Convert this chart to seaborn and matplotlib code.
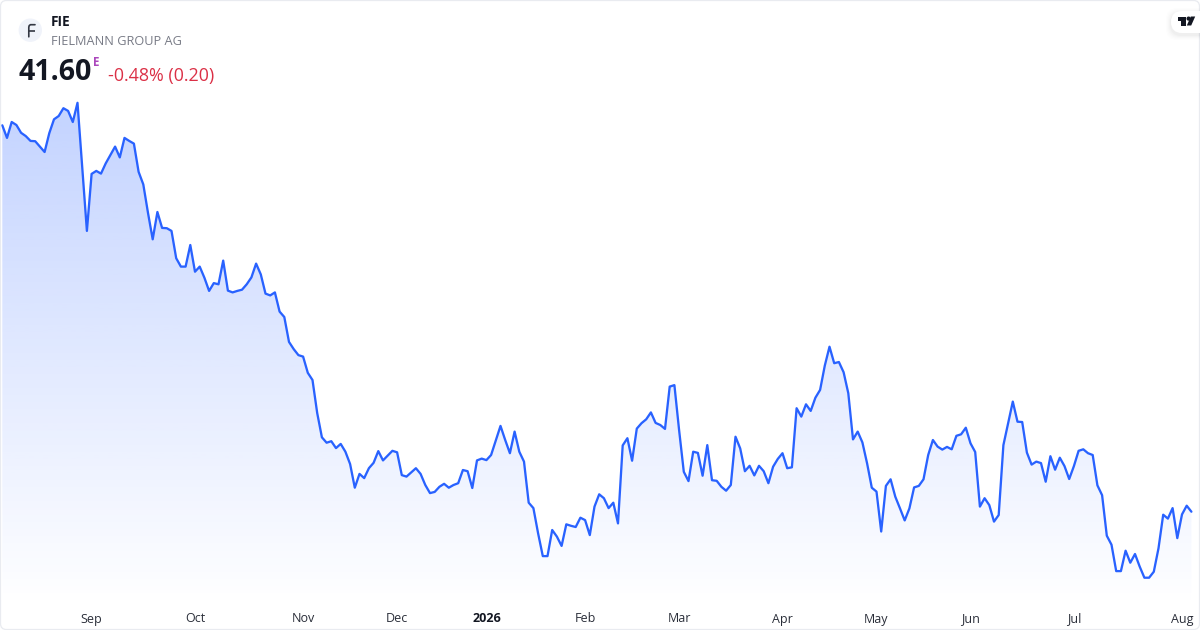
import numpy as np
import pandas as pd
import matplotlib
matplotlib.use("Agg")
import matplotlib.pyplot as plt
from matplotlib.patches import Circle, FancyBboxPatch, Polygon, Rectangle
import seaborn as sns

# Daily closes
prices = [
    54.48, 54.06, 54.59, 54.49, 54.23, 54.12, 53.96, 53.95, 53.77, 53.59,
    54.22, 54.68, 54.79, 55.05, 54.96, 54.59, 55.23, 53.09, 50.96, 52.86,
    52.96, 52.87, 53.21, 53.49, 53.77, 53.41, 54.06, 53.96, 53.87, 52.93,
    52.51, 51.56, 50.68, 51.59, 51.06, 51.05, 50.96, 50.05, 49.77, 49.77,
    50.49, 49.60, 49.77, 49.40, 48.96, 49.22, 49.18, 49.97, 48.97, 48.91,
    48.96, 49.00, 49.18, 49.41, 49.87, 49.51, 48.87, 48.81, 48.91, 48.27,
    48.09, 47.26, 47.02, 46.82, 46.77, 46.23, 45.99, 44.89, 44.08, 43.90,
    43.95, 43.72, 43.86, 43.60, 43.19, 42.40, 42.86, 42.72, 43.05, 43.23,
    43.62, 43.31, 43.47, 43.63, 43.58, 42.82, 42.77, 42.91, 43.05, 42.86,
    42.49, 42.22, 42.26, 42.43, 42.53, 42.40, 42.49, 42.55, 42.99, 42.95,
    42.39, 43.31, 43.37, 43.32, 43.49, 43.97, 44.46, 43.99, 43.55, 44.27,
    43.60, 43.27, 41.90, 41.72, 40.88, 40.12, 40.12, 40.99, 40.77, 40.46,
    41.18, 41.13, 41.09, 41.40, 41.32, 40.82, 41.77, 42.18, 42.05, 41.72,
    41.90, 41.21, 43.81, 44.05, 43.30, 44.37, 44.55, 44.68, 44.91, 44.56,
    44.49, 44.36, 45.77, 45.82, 44.32, 42.93, 42.62, 43.60, 43.56, 42.80,
    43.82, 42.65, 42.63, 42.43, 42.30, 42.49, 44.10, 43.71, 42.95, 43.13,
    42.81, 43.13, 42.95, 42.55, 43.10, 43.36, 43.55, 43.05, 43.08, 45.05,
    44.77, 45.18, 44.96, 45.40, 45.66, 46.47, 47.10, 46.55, 46.59, 46.25,
    45.55, 44.01, 44.27, 43.91, 43.21, 42.40, 42.27, 40.94, 42.46, 42.68,
    42.10, 41.71, 41.31, 41.71, 42.41, 42.46, 42.68, 43.49, 43.99, 43.77,
    43.67, 43.76, 43.68, 44.13, 44.18, 44.40, 43.88, 43.59, 41.77, 42.05,
    41.82, 41.27, 41.49, 43.82, 44.55, 45.27, 44.60, 44.59, 43.57, 43.17,
    43.27, 43.22, 42.60, 43.45, 43.00, 43.40, 43.12, 42.69, 43.12, 43.63,
    43.68, 43.55, 43.49, 42.48, 42.15, 40.80, 40.50, 39.62, 39.62, 40.30,
    39.90, 40.19, 39.77, 39.40, 39.40, 39.60, 40.38, 41.50, 41.37, 41.72,
    40.72, 41.51, 41.80, 41.60,
]

# Exchange holidays, so that month ticks land on the right session
holidays = ["2025-12-24", "2025-12-25", "2025-12-26", "2025-12-31", "2026-01-01",
            "2026-04-03", "2026-04-06", "2026-05-01"]
month_starts = ["2025-09-01", "2025-10-01", "2025-11-01", "2025-12-01", "2026-01-01",
                "2026-02-01", "2026-03-01", "2026-04-01", "2026-05-01", "2026-06-01",
                "2026-07-01", "2026-08-01"]
tick_labels = ["Sep", "Oct", "Nov", "Dec", "2026", "Feb", "Mar", "Apr", "May", "Jun", "Jul", "Aug"]

symbol = "FIE"
company = "FIELMANN GROUP AG"
last_price = "41.60"
change_text = "-0.48% (0.20)"

sns.set_theme(style="white")
plt.rcParams["font.family"] = ["Open Sans", "DejaVu Sans"]

days = pd.bdate_range("2025-08-05", "2026-08-31")
days = days[~days.isin(pd.to_datetime(holidays))][:len(prices)]
df = pd.DataFrame({"session": np.arange(len(prices)), "close": prices, "day": days})
tick_pos = df["day"].searchsorted(pd.to_datetime(month_starts))

fig = plt.figure(figsize=(12, 6.3), dpi=100, facecolor="white")
ax = fig.add_axes([0, 0, 1, 1])

# Area under the line, a vertical fade clipped to the series
area = ax.fill_between(df["session"], df["close"], 30, facecolor="none", edgecolor="none")
fade = np.zeros((256, 1, 4))
fade[:, 0, :3] = matplotlib.colors.to_rgb("#2962FF")
fade[:, 0, 3] = np.linspace(0.28, 0, 256)
img = ax.imshow(fade, extent=[0, len(prices) - 1, 38.4, 55.25], origin="upper",
                aspect="auto", zorder=1, interpolation="bilinear")
img.set_clip_path(area.get_paths()[0], transform=ax.transData)

sns.lineplot(data=df, x="session", y="close", color="#2962FF", linewidth=1.65, ax=ax, zorder=2)

ax.set_xlim(-0.489, 254.83)
ax.set_ylim(37.657, 58.657)
ax.set_xticks(tick_pos)
ax.set_xticklabels(tick_labels)
ax.set_yticks([])
ax.set_xlabel("")
ax.set_ylabel("")
ax.tick_params(axis="x", length=0, pad=-12.6, labelsize=9, labelcolor="#2A2E39")
ax.get_xticklabels()[4].set_fontweight("bold")
ax.get_xticklabels()[4].set_color("#131722")
sns.despine(ax=ax, left=True, bottom=True)

# Header, badge and frame are laid out in pixels on a second axes
ui = fig.add_axes([0, 0, 1, 1], facecolor="none")
ui.set_xlim(0, 1200)
ui.set_ylim(630, 0)
ui.axis("off")

ui.add_patch(FancyBboxPatch((0.5, 0.5), 1199, 629, boxstyle="round,pad=0,rounding_size=6",
                            fc="none", ec="#E9EBF0", lw=0.9))

ui.add_patch(Circle((30.3, 30.2), 11.7, fc="#F0F3FA", ec="none"))
ui.plot([28.8, 28.8, 29.2, 30.4, 35], [36.8, 27.2, 25.6, 24.7, 24.7], color="#333743", lw=1.2,
        solid_capstyle="round", solid_joinstyle="round")
ui.plot([28.8, 34.6], [30.6, 30.6], color="#333743", lw=1.2, solid_capstyle="butt")

ui.text(51, 22.5, symbol, fontsize=9.8, fontweight="bold", color="#131722", va="center", ha="left")
ui.text(51, 41.5, company, fontsize=9.15, color="#787B86", va="center", ha="left")
ui.text(18.5, 73, last_price, fontsize=20.6, fontweight="bold", color="#131722", va="center", ha="left")
ui.text(93, 62, "E", fontsize=8.4, fontweight="bold", color="#AB47BC", va="center", ha="left")
ui.text(108, 76, change_text, fontsize=12.9, color="#DB3046", va="center", ha="left")

# TradingView badge with a soft shadow
for grow, alpha in zip([5, 4, 3, 2, 1], [0.006, 0.009, 0.012, 0.016, 0.02]):
    ui.add_patch(FancyBboxPatch((1171 - grow, 11 - grow + 2), 60 + grow, 22 + 2 * grow,
                                boxstyle="round,pad=0,rounding_size=11", fc="black",
                                ec="none", alpha=alpha, clip_on=True))
ui.add_patch(FancyBboxPatch((1171, 11), 60, 22, boxstyle="round,pad=0,rounding_size=11",
                            fc="white", ec="none", clip_on=True))
ui.add_patch(Rectangle((1177.5, 16.5), 8.5, 4, fc="#131722", ec="none"))
ui.add_patch(Rectangle((1181, 16.5), 5, 9, fc="#131722", ec="none"))
ui.add_patch(Circle((1188.6, 18.6), 2.1, fc="#131722", ec="none"))
ui.add_patch(Polygon([(1186.8, 25.5), (1191.2, 25.5), (1195.2, 16.5), (1190.8, 16.5)],
                     fc="#131722", ec="none"))

fig.savefig("out.png", dpi=100)
